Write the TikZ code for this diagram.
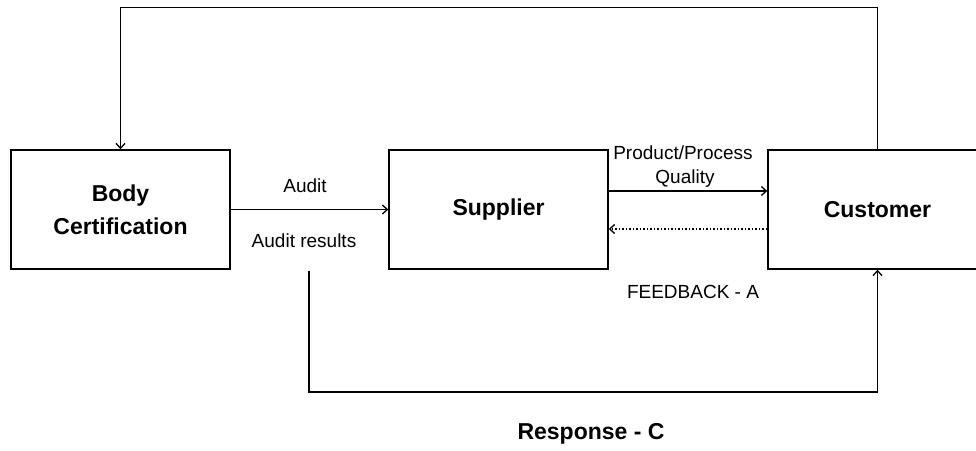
\documentclass[tikz,border=0pt]{standalone}
\usepackage{fontspec}
\setmainfont{Liberation Sans}
\usetikzlibrary{arrows.meta}
\begin{document}
\begin{tikzpicture}[x=1pt,y=-1pt,
  boxnode/.style={draw,line width=1.4pt,minimum width=219pt,minimum height=119pt,inner sep=0pt,
    font=\fontsize{23}{33}\selectfont\bfseries,align=center},
  lbl/.style={font=\fontsize{19}{23}\selectfont,inner sep=0pt,align=center},
  conn/.style={line width=1.5pt},
  arr/.style={conn,-{Straight Barb[length=5pt,width=9pt,line width=1.3pt]}}]
\useasboundingbox (0,0) rectangle (976,450);
\clip (0,0) rectangle (976,450);
\node[boxnode] (body) at (120.5,209.5) {Body\\Certification};
\node[boxnode] (supplier) at (498.5,209.5) {Supplier};
\node[boxnode] (customer) at (877.5,209.5) {Customer};
\coordinate (top) at (500,7.5);
\coordinate (resstart) at (309,271);
\coordinate (bottom) at (500,392);
\draw[arr] (customer.north) -- (customer.north |- top) -- (body.north |- top) -- (body.north);
\draw[arr] (body.east) -- (supplier.west);
\draw[arr] ([yshift=18.5pt]supplier.east) -- ([yshift=18.5pt]customer.west);
\draw[conn,dotted,-{Straight Barb[length=5pt,width=9pt,line width=1.3pt]}] ([yshift=-19.5pt]customer.west) -- ([yshift=-19.5pt]supplier.east);
\draw[arr] (resstart) -- (resstart |- bottom) -- (customer.south |- bottom) -- (customer.south);
\node[lbl] (audit) at (305,186) {Audit};
\node[lbl] (auditres) at (304,241) {Audit results};
\node[lbl] (pp) at (683,153) {Product/Process};
\node[lbl] (qual) at (685,179) {Quality};
\node[lbl] (fb) at (693,292) {FEEDBACK - A};
\node[lbl,font=\fontsize{23}{27}\selectfont\bfseries] (resp) at (591,434) {Response - C};
\end{tikzpicture}
\end{document}
